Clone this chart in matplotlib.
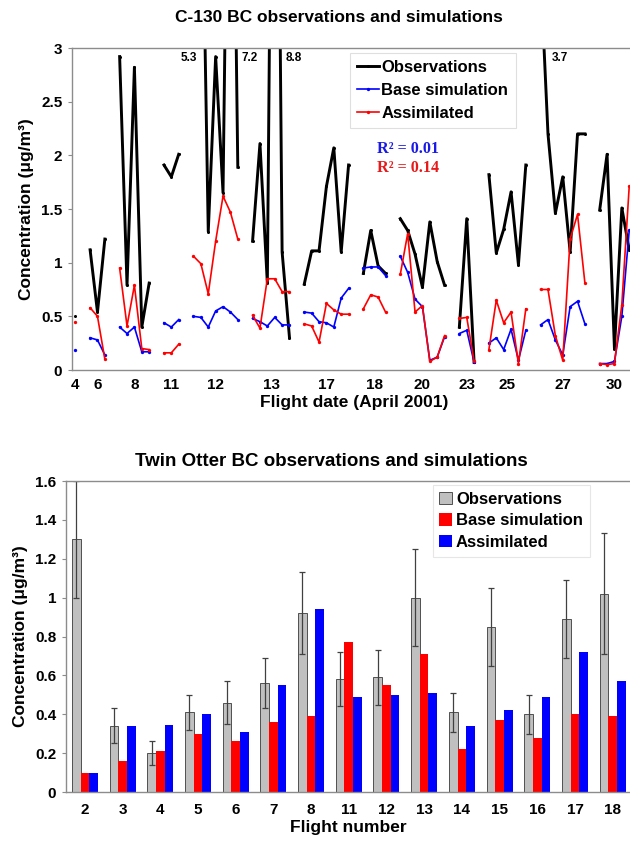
import numpy as np
import matplotlib
matplotlib.use("Agg")
import matplotlib.pyplot as plt

plt.rcParams.update({
    "font.family": ["Liberation Sans", "DejaVu Sans"],
    "font.weight": "bold",
    "axes.labelweight": "bold",
    "font.size": 11,
    "axes.labelsize": 12.5,
    "axes.edgecolor": "#8c8c8c",
    "axes.linewidth": 1.0,
})

nan = np.nan

# ---- C-130 flights (one list per flight date, April 2001) ----
c130_dates = [4, 6, 8, 11, 12, 13, 17, 18, 20, 23, 25, 27, 30]
c130_obs = [
    [0.50],
    [1.12, 0.54, 1.22],
    [2.92, 0.79, 2.82, 0.40, 0.81],
    [1.91, 1.80, 2.01],
    [nan, 5.3, 1.29, 2.92, 1.65, 7.2, 1.89],
    [1.20, 2.11, 0.81, 8.8, 1.10, 0.30],
    [0.80, 1.11, 1.11, 1.71, 2.07, 1.10, 1.91],
    [0.90, 1.30, 0.97, 0.90],
    [1.41, 1.30, 1.08, 0.77, 1.38, 1.01, 0.79],
    [0.40, 1.41, 0.07],
    [1.82, 1.09, 1.31, 1.66, 0.98, 1.91],
    [3.7, 2.20, 1.46, 1.80, 1.10, 2.20, 2.20],
    [1.49, 2.01, 0.20, 1.51, 1.12],
]
c130_base = [
    [0.19],
    [0.30, 0.28, 0.14],
    [0.40, 0.34, 0.40, 0.17, 0.17],
    [0.44, 0.40, 0.47],
    [0.50, 0.49, 0.40, 0.55, 0.59, 0.54, 0.47],
    [0.48, 0.45, 0.41, 0.49, 0.42, 0.42],
    [0.54, 0.53, 0.45, 0.44, 0.40, 0.67, 0.76],
    [0.95, 0.96, 0.96, 0.88],
    [1.06, 0.91, 0.66, 0.59, 0.09, 0.12, 0.31],
    [0.34, 0.37, 0.07],
    [0.25, 0.30, 0.19, 0.38, 0.09, 0.37],
    [0.42, 0.47, 0.28, 0.14, 0.59, 0.64, 0.43],
    [0.06, 0.06, 0.08, 0.50, 1.30],
]
c130_assim = [
    [0.45],
    [0.58, 0.50, 0.10],
    [0.95, 0.41, 0.79, 0.20, 0.19],
    [0.16, 0.16, 0.24],
    [1.06, 0.99, 0.71, 1.20, 1.62, 1.47, 1.22],
    [0.51, 0.39, 0.85, 0.85, 0.73, 0.73],
    [0.43, 0.41, 0.26, 0.62, 0.56, 0.52, 0.52],
    [0.57, 0.70, 0.68, 0.54],
    [0.89, 1.27, 0.54, 0.60, 0.08, 0.12, 0.32],
    [0.48, 0.49, 0.08],
    [0.19, 0.65, 0.44, 0.54, 0.06, 0.57],
    [0.75, 0.75, 0.32, 0.09, 1.22, 1.45, 0.81],
    [0.06, 0.05, 0.06, 0.61, 1.71],
]

# ---- Twin Otter flights ----
to_flights = [2, 3, 4, 5, 6, 7, 8, 11, 12, 13, 14, 15, 16, 17, 18]
to_obs = [1.30, 0.34, 0.20, 0.41, 0.46, 0.56, 0.92, 0.58, 0.59, 1.00, 0.41, 0.85, 0.40, 0.89, 1.02]
to_obs_err = [0.30, 0.09, 0.06, 0.09, 0.11, 0.13, 0.21, 0.14, 0.14, 0.25, 0.10, 0.20, 0.10, 0.20, 0.31]
to_base = [0.10, 0.16, 0.21, 0.30, 0.26, 0.36, 0.39, 0.77, 0.55, 0.71, 0.22, 0.37, 0.28, 0.40, 0.39]
to_assim = [0.10, 0.34, 0.345, 0.40, 0.31, 0.55, 0.94, 0.49, 0.50, 0.51, 0.34, 0.42, 0.49, 0.72, 0.57]


def stitch(groups):
    # join flights into one series with a NaN gap between flights
    out = []
    for i, g in enumerate(groups):
        if i > 0:
            out.append(nan)
        out.extend(g)
    return np.array(out, dtype=float)


obs = stitch(c130_obs)
base = stitch(c130_base)
assim = stitch(c130_assim)
x = np.arange(len(obs))

# tick at the centre of each flight's run of samples
centers = []
start = 0
for g in c130_obs:
    centers.append(start + (len(g) - 1) / 2)
    start += len(g) + 1

W, H = 630, 847
fig = plt.figure(figsize=(W / 100, H / 100), dpi=100)

# ----------------------------
# (a) C-130 line chart
# ----------------------------
ax1 = fig.add_axes([72 / W, (H - 370) / H, 564.6 / W, 322 / H])
ax1.plot(x, obs, color="black", lw=2.1, marker="o", ms=2.2, mew=0, label="Observations")
ax1.plot(x, base, color="#0000ff", lw=1.2, marker="o", ms=2.4, mew=0, label="Base simulation")
ax1.plot(x, assim, color="#ff0000", lw=1.2, marker="o", ms=2.4, mew=0, label="Assimilated")

ax1.set_xlim(-0.45, 76)
ax1.set_ylim(0, 3)
ax1.set_yticks([0, 0.5, 1, 1.5, 2, 2.5, 3])
ax1.set_yticklabels(["0", "0.5", "1", "1.5", "2", "2.5", "3"])
ax1.set_xticks(centers)
ax1.set_xticklabels([str(d) for d in c130_dates])
ax1.tick_params(axis="x", length=0, pad=6)
ax1.tick_params(axis="y", length=3, color="#8c8c8c", pad=4)
ax1.set_xlabel("Flight date (April 2001)", labelpad=2)
ax1.set_ylabel("Concentration (μg/m³)", labelpad=5)

# off-scale peaks
for val, off, ha in [(5.3, -3, "right"), (7.2, 8, "left"), (8.8, 8, "left"), (3.7, 8, "left")]:
    idx = int(np.where(obs == val)[0][0])
    ax1.annotate(f"{val}", (idx, 3), xytext=(off, -7), textcoords="offset points",
                 ha=ha, va="center", fontsize=8.5, fontweight="bold")

leg1 = ax1.legend(loc="upper left", bbox_to_anchor=(0.492, 0.985), frameon=True,
                  fancybox=False, edgecolor="#d8d8d8", handlelength=1.3,
                  handletextpad=0.15, borderpad=0.45, labelspacing=0.46,
                  borderaxespad=0, prop={"weight": "bold", "size": 12})
leg1.get_frame().set_linewidth(0.8)

ax1.text(0.540, 0.686, "R² = 0.01", transform=ax1.transAxes, color="#1a1ae6",
         fontsize=11.6, fontweight="bold", family=["Liberation Serif", "DejaVu Serif"],
         va="center")
ax1.text(0.540, 0.628, "R² = 0.14", transform=ax1.transAxes, color="#e61a1a",
         fontsize=11.6, fontweight="bold", family=["Liberation Serif", "DejaVu Serif"],
         va="center")

fig.text(0.538, 1 - 18 / H, "C-130 BC observations and simulations",
         ha="center", va="center", fontsize=12.5, fontweight="bold")

# ----------------------------
# (b) Twin Otter bar chart
# ----------------------------
ax2 = fig.add_axes([66 / W, (H - 792) / H, 565.5 / W, 311 / H])
pos = np.arange(len(to_flights))
bw = 0.23
ax2.bar(pos - bw, to_obs, bw, color="#c0c0c0", edgecolor="#505050", linewidth=0.7,
        label="Observations")
ax2.bar(pos, to_base, bw, color="#ff0000", label="Base simulation")
ax2.bar(pos + bw, to_assim, bw, color="#0000ff", label="Assimilated")
ax2.errorbar(pos - bw, to_obs, yerr=to_obs_err, fmt="none", ecolor="#404040",
             elinewidth=0.9, capsize=2.2, capthick=0.9)

ax2.set_xlim(-0.5, len(to_flights) - 0.5)
ax2.set_ylim(0, 1.6)
yt = [0, 0.2, 0.4, 0.6, 0.8, 1.0, 1.2, 1.4, 1.6]
ax2.set_yticks(yt)
ax2.set_yticklabels(["0", "0.2", "0.4", "0.6", "0.8", "1", "1.2", "1.4", "1.6"])
ax2.set_xticks(pos)
ax2.set_xticklabels([str(f) for f in to_flights])
ax2.tick_params(axis="x", length=0, pad=8)
ax2.tick_params(axis="y", length=3, color="#8c8c8c", pad=4)
ax2.set_xlabel("Flight number", labelpad=2)
ax2.set_ylabel("Concentration (μg/m³)", labelpad=5)

leg2 = ax2.legend(loc="upper left", bbox_to_anchor=(0.6485, 0.987), frameon=True,
                  fancybox=False, edgecolor="#e0e0e0", handlelength=0.75,
                  handleheight=0.75, handletextpad=0.25, borderpad=0.4,
                  labelspacing=0.4, borderaxespad=0,
                  prop={"weight": "bold", "size": 12})
leg2.get_frame().set_linewidth(0.8)

fig.text(0.5265, 1 - 461 / H, "Twin Otter BC observations and simulations",
         ha="center", va="center", fontsize=13.5, fontweight="bold")

fig.savefig("out.png", dpi=100)
